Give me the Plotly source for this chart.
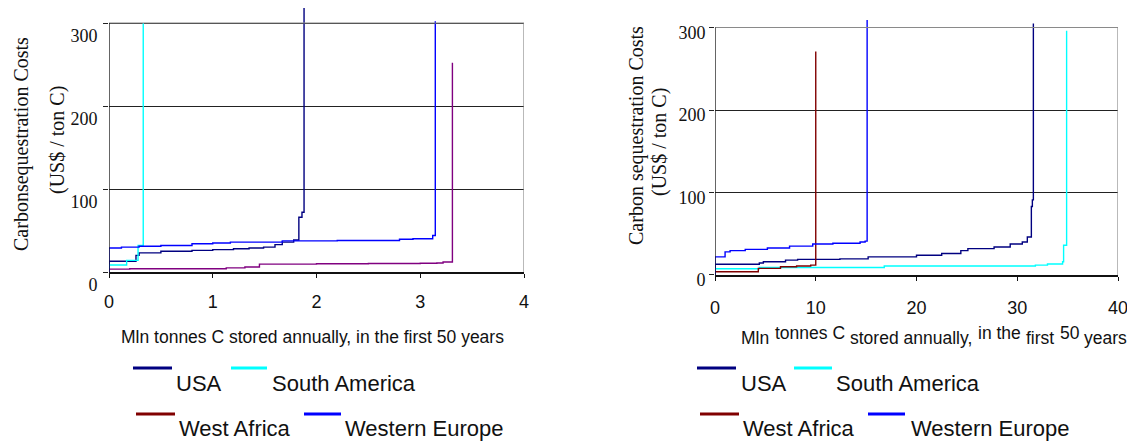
import plotly.graph_objects as go

# ---------------- data (step breakpoints: x = Mln tonnes C, y = US$/ton C) ----------------
series_names = ["USA", "South America", "West Africa", "Western Europe"]

# Left panel
usa_l_x = [0, 0, 0.26, 0.29, 0.5, 0.8, 1.0, 1.2, 1.35, 1.49, 1.6, 1.67, 1.78, 1.83, 1.86, 1.88]
usa_l_y = [0, 13, 20, 23, 25, 26, 27, 28, 29, 30, 33, 36, 38.5, 66, 72, 318]
sam_l_x = [0, 0, 0.17, 0.28, 0.33]
sam_l_y = [0, 8.5, 14, 32, 300]
waf_l_x = [0, 0, 0.2, 1.13, 1.31, 1.45, 2.0, 2.5, 3.0, 3.16, 3.22, 3.31]
waf_l_y = [0, 3.5, 4, 5, 6, 9.5, 10, 10.3, 10.6, 10.8, 12, 252]
weu_l_x = [0, 0, 0.12, 0.29, 0.5, 0.8, 1.0, 1.17, 1.67, 2.2, 2.8, 2.93, 3.12, 3.145]
weu_l_y = [0, 29, 30, 31, 32, 34, 35, 36, 37.5, 38, 39.4, 40, 44, 302]

# Right panel
usa_r_x = [0, 0, 4.4, 4.8, 7.0, 8.2, 12.4, 15.2, 20.0, 22.5, 24.4, 25.1, 27.7, 29.3, 30.5, 31.0, 31.4, 31.5, 31.6]
usa_r_y = [0, 13, 14.5, 16, 18, 19, 19.5, 22, 24, 26, 29.5, 32, 34, 37.5, 40, 46, 83, 91, 305]
sam_r_x = [0, 0, 4.4, 16.8, 31.8, 33.0, 34.5, 34.6, 34.9]
sam_r_y = [0, 7.5, 9, 11, 12, 13.3, 16, 36, 296]
waf_r_x = [0, 0, 4.3, 6.5, 8.1, 9.5, 10.0]
waf_r_y = [0, 4, 8, 10, 11, 12, 271]
weu_r_x = [0, 0, 1.0, 1.5, 3, 5.2, 7.4, 9.7, 11.7, 14.4, 14.9, 15.1]
weu_r_y = [0, 22, 28, 29.5, 31, 32.7, 35, 37.5, 38.4, 40, 41, 309]

y_ticks = [0, 100, 200, 300]
x_ticks_left = [0, 1, 2, 3, 4]
x_ticks_right = [0, 10, 20, 30, 40]

y_title_left = ["Carbonsequestration Costs", "(US$ / ton C)"]
y_title_right = ["Carbon sequestration Costs", "(US$ / ton C)"]
x_title = "Mln tonnes C stored annually, in the first 50 years"
x_title_right_parts = ["Mln", "tonnes C", "stored annually,", "in the", "first", "50", "years"]

# ---------------- styling ----------------
# the page body keeps its default 8px margin, so the figure is drawn 8px in from the corner
OFF = 8
W, H = 1135 - OFF, 445 - OFF
C_USA = "#000080"
C_SAM = "#00FFFF"
C_WAF = "#800000"
C_WAF_LEFT = "#800080"
C_WEU = "#0000FF"
SANS = "Liberation Sans, Arial, sans-serif"
SERIF = "Liberation Serif, Times New Roman, serif"


def fx(p):
    return (p - OFF) / W


def fy(p):
    return 1 - (p - OFF) / H


fig = go.Figure()

left_series = [(usa_l_x, usa_l_y, C_USA), (sam_l_x, sam_l_y, C_SAM),
               (waf_l_x, waf_l_y, C_WAF_LEFT), (weu_l_x, weu_l_y, C_WEU)]
right_series = [(usa_r_x, usa_r_y, C_USA), (sam_r_x, sam_r_y, C_SAM),
                (waf_r_x, waf_r_y, C_WAF), (weu_r_x, weu_r_y, C_WEU)]

for name, (xs, ys, col) in zip(series_names, left_series):
    fig.add_trace(go.Scatter(x=xs, y=ys, mode="lines", name=name, showlegend=False,
                             line=dict(color=col, width=1.4, shape="hv"),
                             xaxis="x", yaxis="y"))
for name, (xs, ys, col) in zip(series_names, right_series):
    fig.add_trace(go.Scatter(x=xs, y=ys, mode="lines", name=name, showlegend=False,
                             line=dict(color=col, width=1.4, shape="hv"),
                             xaxis="x2", yaxis="y2"))

# pixel geometry of the two panels (page pixels)
L_X0, L_X1, L_Y0, L_PPU = 109, 524, 272, 0.83
R_X0, R_X1, R_Y0, R_PPU = 715, 1118, 275, 0.825
L_YMAX, R_YMAX = 318, 323
L_TOP = L_Y0 - L_YMAX * L_PPU
R_TOP = R_Y0 - R_YMAX * R_PPU

common_x = dict(showgrid=False, zeroline=False, showline=True, linecolor="#111111", linewidth=2,
                ticks="outside", ticklen=4, tickcolor="#111111", automargin=False,
                tickfont=dict(family=SANS, size=18, color="#111111"))
common_y = dict(showgrid=True, gridcolor="#222222", gridwidth=1, zeroline=False, showline=False,
                ticks="outside", ticklen=5, tickcolor="#222222", tickvals=y_ticks, automargin=False,
                tickfont=dict(family=SERIF, size=18, color="#111111"))

fig.update_layout(
    width=W, height=H, margin=dict(l=0, r=0, t=0, b=0),
    paper_bgcolor="white", plot_bgcolor="white", showlegend=False,
    xaxis=dict(domain=[fx(L_X0), fx(L_X1)], range=[0, 4], tickvals=x_ticks_left, anchor="y",
               ticklabelstandoff=8, **common_x),
    yaxis=dict(domain=[fy(L_Y0), min(1.0, fy(L_TOP))], range=[0, L_YMAX], anchor="x",
               ticklabelshift=13, ticklabelstandoff=2, **common_y),
    xaxis2=dict(domain=[fx(R_X0), fx(R_X1)], range=[0, 40], tickvals=x_ticks_right, anchor="y2",
                ticklabelstandoff=11, **common_x),
    yaxis2=dict(domain=[fy(R_Y0), min(1.0, fy(R_TOP))], range=[0, R_YMAX], anchor="x2",
                ticklabelshift=5, **common_y),
)

shapes = []
# panel frames: gray top/right, black left axis
for xr, yr, xmax in [("x", "y", 4), ("x2", "y2", 40)]:
    shapes.append(dict(type="line", xref=xr, yref=yr, x0=0, x1=xmax, y0=300, y1=300,
                       line=dict(color="#8a8a8a", width=1.2), layer="above"))
    shapes.append(dict(type="line", xref=xr, yref=yr, x0=xmax, x1=xmax, y0=0, y1=300,
                       line=dict(color="#8a8a8a", width=1.2), layer="above"))
    shapes.append(dict(type="line", xref=xr, yref=yr, x0=0, x1=0, y0=0, y1=300,
                       line=dict(color="#111111", width=1.3), layer="above"))

annotations = []


def add_text(text, px, py, size, family, xanchor="left", angle=0):
    annotations.append(dict(text=text, x=fx(px), y=fy(py), xref="paper", yref="paper",
                            xanchor=xanchor, yanchor="middle", showarrow=False, textangle=angle,
                            font=dict(family=family, size=size, color="#111111")))


# legends (line sample above-left of each label)
legend_layout = {
    "left": [(133, 172, 368, 174, 383), (231, 267, 368, 270, 383),
             (136, 175, 414, 177, 428), (304, 341, 414, 343, 428)],
    "right": [(697, 736, 368, 739, 383), (794, 832, 368, 834, 383),
              (700, 739, 414, 741, 428), (868, 905, 414, 909, 428)],
}
legend_colors = [C_USA, C_SAM, C_WAF, C_WEU]
for side in ["left", "right"]:
    for name, col, (sx0, sx1, sy, tx, ty) in zip(series_names, legend_colors, legend_layout[side]):
        shapes.append(dict(type="line", xref="paper", yref="paper", x0=fx(sx0), x1=fx(sx1),
                           y0=fy(sy), y1=fy(sy), line=dict(color=col, width=3)))
        add_text(name, tx, ty, 22, SANS)

# axis titles
add_text(y_title_left[0], 21, 144, 20, SERIF, xanchor="center", angle=-90)
add_text(y_title_left[1], 57, 140, 20, SERIF, xanchor="center", angle=-90)
add_text(y_title_right[0], 637, 136, 20, SERIF, xanchor="center", angle=-90)
add_text(y_title_right[1], 659, 142, 20, SERIF, xanchor="center", angle=-90)

add_text(x_title, 312, 337, 17.5, SANS, xanchor="center")
right_part_pos = [(739, 338), (773, 333), (848, 338), (976, 333), (1024, 338), (1058, 333), (1082, 338)]
for part, (px, py) in zip(x_title_right_parts, right_part_pos):
    add_text(part, px, py, 17.5, SANS)

fig.update_layout(shapes=shapes, annotations=annotations)
fig.write_html("out.html", config={"displayModeBar": False})
